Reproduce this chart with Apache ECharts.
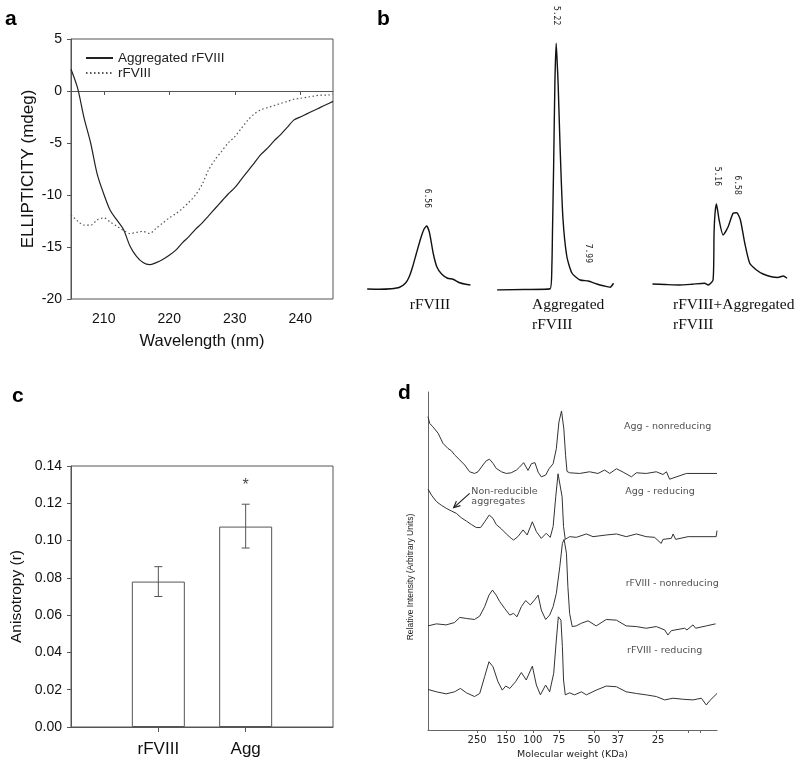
<!DOCTYPE html>
<html>
<head>
<meta charset="utf-8">
<script src="https://cdn.jsdelivr.net/npm/echarts@6/dist/echarts.min.js"></script>
<style>
html, body { margin: 0; padding: 0; background: #fff; }
#fig { width: 800px; height: 766px; }
</style>
</head>
<body>
<div id="fig"></div>
<script>
// ---- a: CD spectra ----
var wavelength = [205, 206, 207, 208, 209, 210, 211, 212, 213, 214, 215, 216, 217, 218, 219, 220, 221, 222, 223, 224, 225,
    226, 227, 228, 229, 230, 231, 232, 233, 234, 235, 236, 237, 238, 239, 240, 241, 242, 243, 244, 245];
var ellipAggregated = [2.1, 0.3, -2.6, -5.0, -8.0, -9.9, -11.5, -12.4, -13.3, -14.9, -15.9, -16.5, -16.7, -16.5, -16.2, -15.8, -15.3, -14.6, -14.0, -13.3, -12.7,
    -12.0, -11.3, -10.6, -9.9, -9.3, -8.5, -7.7, -6.9, -6.1, -5.5, -4.8, -4.2, -3.5, -2.8, -2.5, -2.2, -1.9, -1.6, -1.3, -1.0];
var ellipNative = [-11.9, -12.5, -12.9, -12.9, -12.4, -12.2, -12.6, -13.0, -13.4, -13.7, -13.6, -13.5, -13.7, -13.2, -12.7, -12.2, -11.8, -11.3, -10.7, -10.0, -9.0,
    -7.6, -6.6, -5.8, -5.0, -4.4, -3.6, -2.8, -2.2, -1.8, -1.6, -1.4, -1.2, -1.0, -0.8, -0.7, -0.6, -0.5, -0.4, -0.4, -0.3];
var waveTicks = [210, 220, 230, 240];

// ---- b: SEC traces, [retention time (min), signal] ----
var secNative = [[1.6, 0.4], [2.6, 0.3], [3.6, 0.5], [4.3, 1.1], [4.8, 2.8], [5.1, 5.3], [5.4, 9.5], [5.7, 14.7], [6.1, 21.3], [6.35, 24.5], [6.56, 25.6],
    [6.8, 22.7], [7.1, 14.7], [7.4, 9.3], [7.8, 6.4], [8.3, 4.7], [8.75, 4.3], [9.3, 2.9], [9.8, 2.3], [10.2, 2.0]];
var secAggregated = [[0.1, 0], [2.5, 0.2], [4.7, 0.5], [4.85, 10], [4.9, 22.8], [5.0, 49.3], [5.11, 82.7], [5.22, 98.7], [5.3, 92], [5.39, 82.7], [5.57, 56],
    [5.8, 29.3], [6.15, 13.3], [6.6, 6.7], [7.3, 4], [8.0, 3.6], [8.75, 2.4], [9.4, 1.6], [9.9, 1.1], [10.2, 2.7]];
var secMixed = [[0.6, 2.4], [1.5, 2.2], [2.5, 2.0], [3.4, 2.3], [4.3, 2.7], [4.55, 2], [4.9, 4], [4.97, 22.7], [5.04, 30.7], [5.14, 34.4], [5.33, 28], [5.61, 22],
    [5.97, 25.3], [6.32, 30.7], [6.58, 30.9], [6.84, 28], [7.15, 18.7], [7.5, 10.7], [7.98, 8], [8.45, 6.4], [9.04, 5.3], [9.5, 5.0], [9.87, 5.6], [10.15, 4.7]];
var peaksNative = [[6.56, 25.6]];
var peaksAggregated = [[5.22, 98.7], [7.99, 3.6]];
var peaksMixed = [[5.16, 34.4], [6.58, 30.9]];

// ---- c: anisotropy ----
var anisoCats = ['rFVIII', 'Agg'];
var anisoMean = [0.078, 0.1075];
var anisoLow = [0.070, 0.096];
var anisoHigh = [0.086, 0.1195];
var anisoStar = [[2, 0.1295]];

// ---- d: gel densitometry, [migration, intensity] ----
var mwTickPos = [17, 27, 36.3, 45.3, 57.4, 65.7, 78.9, 90, 94.1];
var mwLabelPos = [17, 27, 36.3, 45.3, 57.4, 65.7, 79.6];
var mwLabels = ['250', '150', '100', '75', '50', '37', '25'];
var aggNonreducing = [[0, 92.7], [0.6, 90.7], [1.7, 89.7], [3.5, 87.8], [5.2, 84.8], [6.9, 83.3], [8.1, 82.6], [9.2, 81.4], [11, 79.9], [12.7, 78.4],
    [14.4, 76.4], [16.1, 75.9], [17.3, 76.4], [19, 78.4], [20.2, 79.7], [21.3, 80.1], [22.5, 78.9], [23.6, 77.4], [25.4, 76.4], [27.1, 75.9],
    [28.8, 76.1], [30.6, 76.9], [31.7, 77.8], [33.1, 79.1], [34.6, 76.8], [35.8, 78.8], [37, 79.1], [38.1, 76.3], [39.2, 74.9], [40.7, 75.4],
    [41.9, 77.3], [43.3, 78.8], [44.4, 83.2], [45.3, 91.1], [46.2, 94.4], [47, 89.1], [47.6, 81.3], [48.1, 76.5], [49, 76.1], [52.5, 75.9],
    [55.9, 76.4], [58.8, 75.9], [61.1, 76.9], [62.9, 75.9], [65.2, 77.3], [67.5, 76.3], [70.4, 74.9], [72.1, 76.1], [75.5, 75.9], [79, 76.4],
    [81.3, 75.6], [82.5, 76.4], [83.6, 74.2], [89.4, 75.9], [100, 75.9]];
var aggReducing = [[0, 71.3], [1.2, 69.5], [2.9, 67.6], [4.6, 66.5], [6.3, 65.6], [8.1, 64.8], [9.8, 64.1], [11.5, 62.8], [13.3, 61.8], [15, 60.8],
    [16.7, 59.9], [18.2, 59.9], [19.6, 61.6], [21.2, 63.6], [22.5, 62.6], [23.6, 60.8], [25.4, 59.5], [27.1, 58], [28.8, 56.7], [29.6, 56.2],
    [31.1, 57.2], [32.9, 59.2], [34.3, 57.7], [36.1, 61.6], [37.5, 58.7], [39.2, 56.7], [40.9, 58.2], [42.3, 57], [43.3, 60.2], [44.2, 69],
    [45, 75.8], [45.6, 75.6], [46.4, 69], [46.9, 60.2], [47.5, 56.4], [49, 57.2], [51.3, 57], [54.8, 58], [57.1, 57.2], [61.7, 57.7],
    [65.2, 58], [68.6, 57.2], [72.1, 58], [75.5, 57.2], [78.4, 57], [80.7, 55.2], [81.3, 56.4], [84.2, 56.7], [84.8, 58], [85.7, 56.4],
    [90, 57.2], [99.7, 57.2], [100, 59]];
var rfNonreducing = [[0, 30.8], [2.9, 31.4], [6.3, 31.1], [9.2, 31.8], [11, 33.3], [13.3, 33], [16.1, 32.7], [17.9, 33.7], [19.6, 36.5], [21.1, 39.9],
    [22.3, 41.4], [23.6, 39.9], [24.8, 38], [26.5, 36], [28.3, 34], [29.6, 34.5], [30.8, 33.5], [32.3, 36.5], [33.8, 38.3], [35.4, 37],
    [36.9, 38.5], [38.1, 39.9], [39.2, 35.5], [40.7, 32.7], [42.1, 34], [43.3, 36.5], [44.4, 40.4], [45.6, 48.3], [46.5, 55.2], [47.1, 56.4],
    [47.9, 52.3], [48.4, 42.4], [49, 34.5], [49.9, 30.6], [51.3, 30.8], [53.1, 31.6], [55.4, 32.3], [58.2, 30.8], [61.7, 32.7], [65.2, 32.5],
    [68.6, 30.8], [72.1, 30.6], [75.5, 30.1], [79, 30.6], [81.9, 29.6], [83, 28.1], [84.2, 29.4], [88.8, 30.1], [89.6, 29.6], [91.7, 31.1],
    [92.6, 30.1], [96.3, 30.8], [99.5, 31.4]];
var rfReducing = [[0, 12], [2.9, 11.3], [6.3, 10.7], [9.2, 11.3], [11.2, 12.3], [13.3, 11], [16.1, 9.9], [17.9, 10.8], [19.6, 15.8], [21.1, 20.2],
    [22.5, 18.7], [24.2, 14.3], [25.7, 11.8], [26.9, 13], [28.3, 12.3], [30.3, 14.3], [32.3, 17], [34, 14.8], [36.1, 18.9], [37.5, 13.3],
    [38.9, 10.4], [40.7, 13.3], [42.1, 11.3], [43.5, 16.8], [44.4, 26.6], [45.1, 33.5], [46, 32.5], [46.5, 24.7], [46.9, 14.8], [47.5, 10.4],
    [49, 11], [50.7, 10.4], [53.1, 11.3], [54.8, 10.4], [58.2, 11.8], [61.7, 13], [65.2, 12.8], [68.6, 11.3], [72.1, 10.8], [75.5, 10.4],
    [79, 9.9], [81.9, 8.9], [84.8, 9.4], [88.2, 9.1], [91.7, 8.9], [94.6, 9.4], [96.3, 7.4], [97.5, 8.7], [100, 10.8]];
var laneLabels = [
    { name: 'Agg - nonreducing', value: [82.9, 89.7] },
    { name: 'Agg - reducing', value: [80.3, 70.5] },
    { name: 'rFVIII - nonreducing', value: [84.5, 43.2] },
    { name: 'rFVIII - reducing', value: [81.9, 23.4] }
];
var aggregateNote = [{ name: 'Non-reducible\naggregates', value: [15, 69.2] }];
var aggregateArrow = [[14.4, 70.0, 8.9, 65.8]];

var SANS = '"Liberation Sans", Arial, sans-serif';
var SERIF = '"Liberation Serif", "Times New Roman", serif';
var SMALL = '"DejaVu Sans", sans-serif';

var chart = echarts.init(document.getElementById('fig'));

function zip(xs, ys) {
    return xs.map(function (x, i) { return [x, ys[i]]; });
}

// retention time printed above each peak, rotated
function peakLabel(params, api) {
    var p = api.coord([api.value(0), api.value(1)]);
    return {
        type: 'text', x: p[0], y: p[1] - 18, rotation: -Math.PI / 2,
        style: { text: api.value(0).toFixed(2), align: 'right', verticalAlign: 'middle', font: '8px "DejaVu Sans Mono", monospace', fill: '#222' }
    };
}

function errorBar(params, api) {
    var lo = api.coord([api.value(0), api.value(1)]);
    var hi = api.coord([api.value(0), api.value(2)]);
    var st = { stroke: '#555', lineWidth: 1 };
    return {
        type: 'group', children: [
            { type: 'line', shape: { x1: lo[0], y1: lo[1], x2: hi[0], y2: hi[1] }, style: st },
            { type: 'line', shape: { x1: lo[0] - 4, y1: lo[1], x2: lo[0] + 4, y2: lo[1] }, style: st },
            { type: 'line', shape: { x1: hi[0] - 4, y1: hi[1], x2: hi[0] + 4, y2: hi[1] }, style: st }
        ]
    };
}

function arrow(params, api) {
    var a = api.coord([api.value(0), api.value(1)]);
    var b = api.coord([api.value(2), api.value(3)]);
    var ang = Math.atan2(b[1] - a[1], b[0] - a[0]);
    var L = 7, h = 0.45;
    var p1 = [b[0] - L * Math.cos(ang - h), b[1] - L * Math.sin(ang - h)];
    var p2 = [b[0] - L * Math.cos(ang + h), b[1] - L * Math.sin(ang + h)];
    return {
        type: 'group', children: [
            { type: 'line', shape: { x1: a[0], y1: a[1], x2: b[0], y2: b[1] }, style: { stroke: '#222', lineWidth: 1.2 } },
            { type: 'polyline', shape: { points: [p1, b, p2] }, style: { stroke: '#222', lineWidth: 1.2, fill: null } }
        ]
    };
}

var secGrid = { top: 40, height: 250 };

var option = {
    animation: false,
    backgroundColor: '#fff',
    textStyle: { fontFamily: SANS },
    legend: {
        left: 80, top: 46, orient: 'vertical', itemWidth: 27, itemHeight: 10, itemGap: 1,
        data: ['Aggregated rFVIII', 'rFVIII'],
        itemStyle: { opacity: 0 },
        textStyle: { fontSize: 13.5, color: '#222', fontFamily: SANS }
    },
    grid: [
        { left: 71, top: 39, width: 262, height: 260, show: true, borderColor: '#555', borderWidth: 1 },
        { left: 348, width: 126, top: secGrid.top, height: secGrid.height },
        { left: 496, width: 121, top: secGrid.top, height: secGrid.height },
        { left: 644, width: 148, top: secGrid.top, height: secGrid.height },
        { left: 71, top: 466, width: 262, height: 261, show: true, borderColor: '#555', borderWidth: 1 },
        { left: 428, top: 392, width: 289, height: 338 }
    ],
    xAxis: [
        {
            gridIndex: 0, type: 'value', min: 205, max: 245,
            name: 'Wavelength (nm)', nameLocation: 'middle', nameGap: 34,
            nameTextStyle: { fontSize: 16.5, color: '#111' },
            axisLine: { lineStyle: { color: '#555' } },
            axisTick: { customValues: waveTicks, length: 4, lineStyle: { color: '#555' } },
            axisLabel: { customValues: waveTicks, fontSize: 14, color: '#111', margin: 13 },
            splitLine: { show: false }
        },
        { gridIndex: 1, type: 'value', min: 0, max: 10.5, show: false },
        { gridIndex: 2, type: 'value', min: 0, max: 10.5, show: false },
        { gridIndex: 3, type: 'value', min: 0, max: 10.5, show: false },
        {
            gridIndex: 4, type: 'value', min: 0, max: 3,
            axisLine: { lineStyle: { color: '#555' } },
            axisTick: { customValues: [1, 2], length: 5, lineStyle: { color: '#555' } },
            axisLabel: {
                customValues: [1, 2], fontSize: 17, color: '#111', margin: 14,
                formatter: function (v) { return anisoCats[Math.round(v) - 1]; }
            },
            splitLine: { show: false }
        },
        {
            gridIndex: 5, type: 'value', min: 0, max: 100,
            name: 'Molecular weight (KDa)', nameLocation: 'middle', nameGap: 20,
            nameTextStyle: { fontSize: 9.5, color: '#222', fontFamily: SMALL },
            axisLine: { lineStyle: { color: '#666' } },
            axisTick: { customValues: mwTickPos, length: 3, lineStyle: { color: '#666' } },
            axisLabel: {
                customValues: mwLabelPos, fontSize: 10, color: '#222', margin: 5, fontFamily: SMALL,
                formatter: function (v) { return mwLabels[mwLabelPos.indexOf(v)]; }
            },
            splitLine: { show: false }
        }
    ],
    yAxis: [
        {
            gridIndex: 0, type: 'value', min: -20, max: 5, interval: 5,
            name: 'ELLIPTICITY (mdeg)', nameLocation: 'middle', nameGap: 34,
            nameTextStyle: { fontSize: 17, color: '#111' },
            axisLine: { lineStyle: { color: '#555' } },
            axisTick: { length: 4, lineStyle: { color: '#555' } },
            axisLabel: { fontSize: 14, color: '#111', margin: 9 },
            splitLine: { show: false }
        },
        { gridIndex: 1, type: 'value', min: 0, max: 100, show: false },
        { gridIndex: 2, type: 'value', min: 0, max: 100, show: false },
        { gridIndex: 3, type: 'value', min: 0, max: 100, show: false },
        {
            gridIndex: 4, type: 'value', min: 0, max: 0.14, interval: 0.02,
            name: 'Anisotropy (r)', nameLocation: 'middle', nameGap: 46,
            nameTextStyle: { fontSize: 15.5, color: '#111' },
            axisLine: { lineStyle: { color: '#555' } },
            axisTick: { length: 4, lineStyle: { color: '#555' } },
            axisLabel: { fontSize: 14, color: '#111', margin: 9, formatter: function (v) { return v.toFixed(2); } },
            splitLine: { show: false }
        },
        {
            gridIndex: 5, type: 'value', min: 0, max: 100,
            name: 'Relative Intensity (Arbitrary Units)', nameLocation: 'middle', nameGap: 13,
            nameTextStyle: { fontSize: 8.5, color: '#222', padding: [0, 32, 0, 0] },
            axisLine: { lineStyle: { color: '#666' } },
            axisTick: { show: false }, axisLabel: { show: false },
            splitLine: { show: false }
        }
    ],
    series: [
        // a
        {
            name: 'Aggregated rFVIII', type: 'line', xAxisIndex: 0, yAxisIndex: 0, symbol: 'none', smooth: 0.3,
            data: zip(wavelength, ellipAggregated), lineStyle: { color: '#222', width: 1.2 }, itemStyle: { color: '#222' }
        },
        {
            name: 'rFVIII', type: 'line', xAxisIndex: 0, yAxisIndex: 0, symbol: 'none', smooth: 0.3,
            data: zip(wavelength, ellipNative), lineStyle: { color: '#555', width: 1.2, type: [1.5, 2.5] }, itemStyle: { color: '#555' }
        },
        // b
        { name: 'sec-native', type: 'line', xAxisIndex: 1, yAxisIndex: 1, symbol: 'none', smooth: 0.2, data: secNative, lineStyle: { color: '#111', width: 1.4 } },
        { name: 'sec-agg', type: 'line', xAxisIndex: 2, yAxisIndex: 2, symbol: 'none', smooth: 0.2, data: secAggregated, lineStyle: { color: '#111', width: 1.4 } },
        { name: 'sec-mix', type: 'line', xAxisIndex: 3, yAxisIndex: 3, symbol: 'none', smooth: 0.2, data: secMixed, lineStyle: { color: '#111', width: 1.4 } },
        { type: 'custom', xAxisIndex: 1, yAxisIndex: 1, renderItem: peakLabel, data: peaksNative, silent: true },
        { type: 'custom', xAxisIndex: 2, yAxisIndex: 2, renderItem: peakLabel, data: peaksAggregated, silent: true },
        { type: 'custom', xAxisIndex: 3, yAxisIndex: 3, renderItem: peakLabel, data: peaksMixed, silent: true },
        // c
        {
            type: 'bar', xAxisIndex: 4, yAxisIndex: 4, barWidth: 53, z: 2,
            data: anisoCats.map(function (c, i) { return [i + 1, anisoMean[i]]; }),
            itemStyle: { color: '#fff', borderColor: '#555', borderWidth: 1 }
        },
        {
            type: 'custom', xAxisIndex: 4, yAxisIndex: 4, renderItem: errorBar, silent: true, z: 5,
            data: anisoCats.map(function (c, i) { return [i + 1, anisoLow[i], anisoHigh[i]]; })
        },
        {
            type: 'scatter', xAxisIndex: 4, yAxisIndex: 4, symbolSize: 0, data: anisoStar, silent: true, z: 5,
            label: { show: true, position: 'inside', formatter: '*', fontSize: 16, color: '#111' }
        },
        // d
        { type: 'line', xAxisIndex: 5, yAxisIndex: 5, symbol: 'none', data: aggNonreducing, lineStyle: { color: '#333', width: 1 } },
        { type: 'line', xAxisIndex: 5, yAxisIndex: 5, symbol: 'none', data: aggReducing, lineStyle: { color: '#333', width: 1 } },
        { type: 'line', xAxisIndex: 5, yAxisIndex: 5, symbol: 'none', data: rfNonreducing, lineStyle: { color: '#333', width: 1 } },
        { type: 'line', xAxisIndex: 5, yAxisIndex: 5, symbol: 'none', data: rfReducing, lineStyle: { color: '#333', width: 1 } },
        {
            type: 'scatter', xAxisIndex: 5, yAxisIndex: 5, symbolSize: 0, data: laneLabels, silent: true,
            label: { show: true, position: 'inside', formatter: '{b}', fontSize: 9.5, fontFamily: SMALL, color: '#222' }
        },
        {
            type: 'scatter', xAxisIndex: 5, yAxisIndex: 5, symbolSize: 0, data: aggregateNote, silent: true,
            label: { show: true, position: 'right', distance: 0, align: 'left', formatter: '{b}', fontSize: 9.5, lineHeight: 10, fontFamily: SMALL, color: '#222' }
        },
        { type: 'custom', xAxisIndex: 5, yAxisIndex: 5, renderItem: arrow, data: aggregateArrow, silent: true }
    ],
    graphic: [
        { type: 'text', left: 5, top: 9, style: { text: 'a', font: 'bold 21px ' + SANS, fill: '#000' } },
        { type: 'text', left: 377, top: 9, style: { text: 'b', font: 'bold 21px ' + SANS, fill: '#000' } },
        { type: 'text', left: 12, top: 386, style: { text: 'c', font: 'bold 21px ' + SANS, fill: '#000' } },
        { type: 'text', left: 398, top: 383, style: { text: 'd', font: 'bold 21px ' + SANS, fill: '#000' } },
        { type: 'text', x: 430, y: 305, style: { text: 'rFVIII', font: '15.5px ' + SERIF, fill: '#111', align: 'center', verticalAlign: 'middle' } },
        { type: 'text', x: 532, y: 315, style: { text: 'Aggregated\nrFVIII', font: '15.5px ' + SERIF, lineHeight: 20, fill: '#111', align: 'left', verticalAlign: 'middle' } },
        { type: 'text', x: 673, y: 315, style: { text: 'rFVIII+Aggregated\nrFVIII', font: '15.5px ' + SERIF, lineHeight: 20, fill: '#111', align: 'left', verticalAlign: 'middle' } }
    ]
};

chart.setOption(option);
</script>
</body>
</html>
